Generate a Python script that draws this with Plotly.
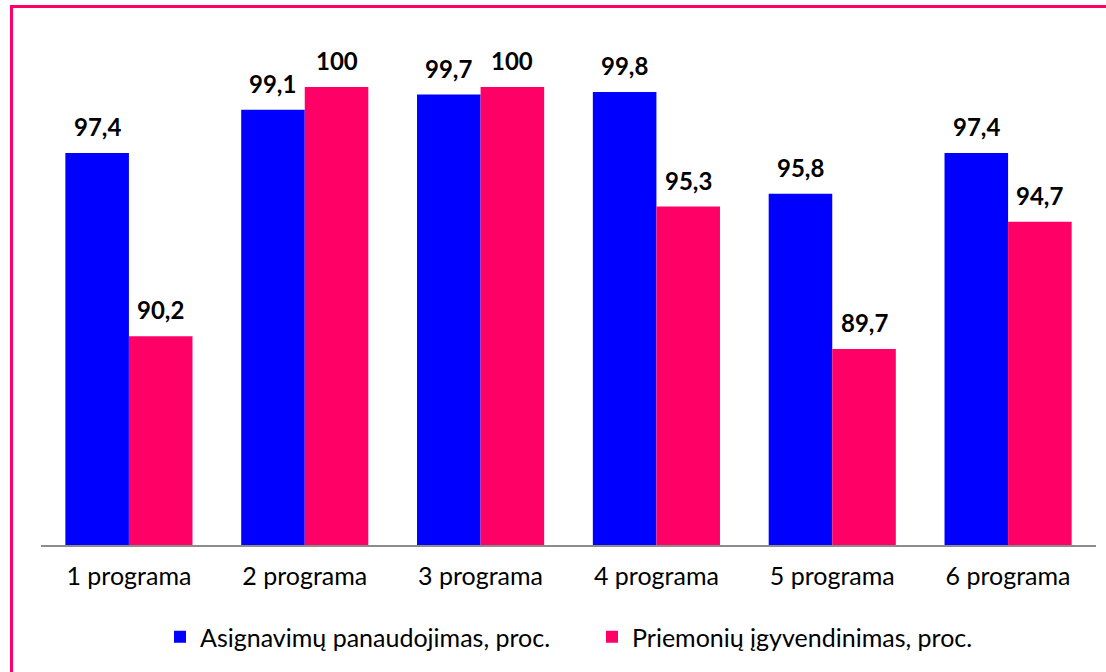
import plotly.graph_objects as go

categories = ["1 programa", "2 programa", "3 programa", "4 programa", "5 programa", "6 programa"]
asignavimai = [97.4, 99.1, 99.7, 99.8, 95.8, 97.4]
priemones = [90.2, 100, 100, 95.3, 89.7, 94.7]
series_names = ["Asignavimų panaudojimas, proc.", "Priemonių įgyvendinimas, proc."]

W, H = 1106, 672
L, R, T, B = 41, 10, 36, 127
pw, ph = W - L - R, H - T - B
BARGAP = 0.277

def px(x):
    return (x - L) / pw

def py(y):
    return (H - B - y) / ph

def fmt(v):
    return ("%g" % v).replace(".", ",")

FONT = "Lato, Noto Sans, sans-serif"
colors = ["#0000FF", "#FF0066"]

fig = go.Figure()
for name, vals, col in zip(series_names, [asignavimai, priemones], colors):
    fig.add_trace(go.Bar(
        x=categories, y=vals, name=name,
        marker=dict(color=col, line=dict(width=0)),
    ))

# data labels above each bar
bar_w_px = pw / len(categories) * (1 - BARGAP) / 2
annotations = []
for k, vals in enumerate([asignavimai, priemones]):
    shift = (k - 0.5) * bar_w_px
    for c, v in zip(categories, vals):
        annotations.append(dict(
            x=c, y=v, xref="x", yref="y", text="<b>" + fmt(v) + "</b>",
            showarrow=False, xanchor="center", yanchor="bottom",
            xshift=shift, yshift=10,
            font=dict(family=FONT, size=24, color="#000000"),
        ))

fig.update_layout(
    width=W, height=H,
    margin=dict(l=L, r=R, t=T, b=B, autoexpand=False),
    paper_bgcolor="white", plot_bgcolor="white",
    barmode="group", bargap=BARGAP, bargroupgap=0,
    font=dict(family=FONT, size=25, color="#000000"),
    showlegend=True,
    legend=dict(orientation="h", x=px(160), xanchor="left", y=py(637), yanchor="middle",
                font=dict(family=FONT, size=25, color="#000000"),
                itemwidth=30, entrywidth=387, entrywidthmode="pixels", traceorder="normal"),
    xaxis=dict(showline=True, linecolor="#8C8C8C", linewidth=2, ticks="",
               ticklabelstandoff=8, tickfont=dict(family=FONT, size=25, color="#000000"),
               showgrid=False, zeroline=False),
    yaxis=dict(range=[82, 102], visible=False, showgrid=False, zeroline=False),
    annotations=annotations,
    shapes=[
        dict(type="line", xref="paper", yref="paper", x0=px(11.5), x1=px(11.5), y0=py(6.5), y1=py(H + 5),
             line=dict(color="#FF0066", width=3)),
        dict(type="line", xref="paper", yref="paper", x0=px(10), x1=px(W + 5), y0=py(6.5), y1=py(6.5),
             line=dict(color="#FF0066", width=3)),
    ],
)

fig.write_html("out.html", config={"displayModeBar": False},
               post_script="document.body.style.margin='0';")
